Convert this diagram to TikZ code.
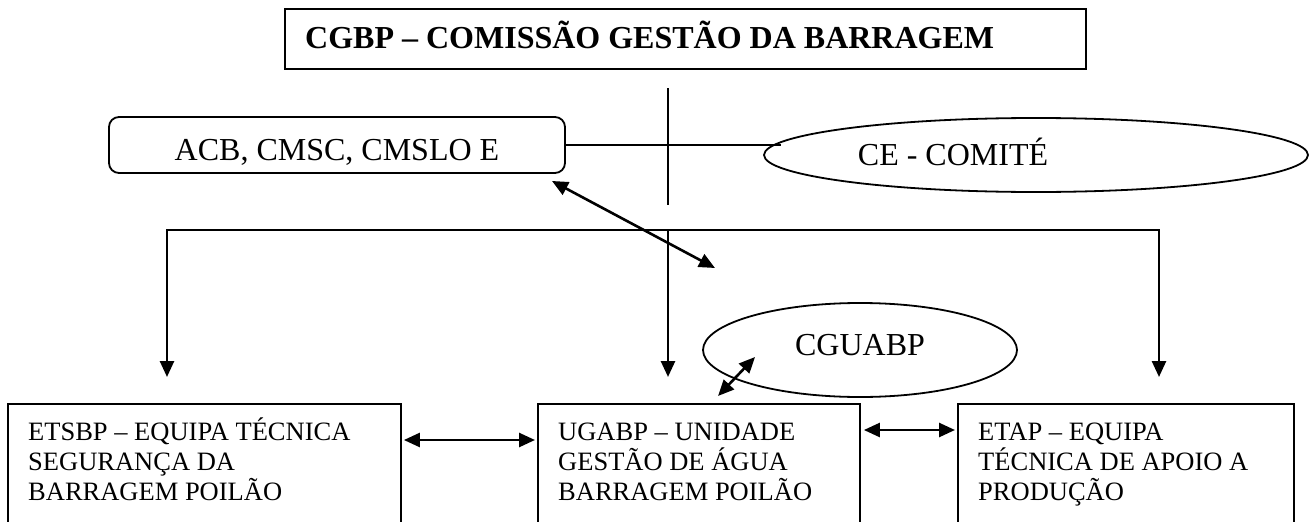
\documentclass[tikz,border=0pt]{standalone}
\usepackage{fontspec}
\setmainfont{Liberation Serif}
\usetikzlibrary{arrows.meta,shapes.geometric}
\begin{document}
\begin{tikzpicture}[x=1pt,y=-1pt,
  box/.style={draw,line width=1.9pt,rectangle,inner sep=0pt,anchor=north west},
  oval/.style={draw,ellipse,line width=1.8pt,inner sep=0pt},
  btext/.style={font=\fontsize{26.5}{30}\selectfont,anchor=base west,inner sep=0pt},
  big/.style={font=\fontsize{32}{38}\selectfont,inner sep=0pt,anchor=base},
  arr/.style={line width=2.6pt,-{Triangle[length=16pt,width=14pt]}},
  darr/.style={line width=2.6pt,{Triangle[length=16pt,width=14pt]}-{Triangle[length=16pt,width=14pt]}},
  thinline/.style={line width=1.5pt}]
\useasboundingbox (0,0) rectangle (1312,522);

% top box
\node[box,minimum width=801pt,minimum height=60pt] (cgbp) at (284,8) {};
\node[big,font=\bfseries\fontsize{32}{38}\selectfont,anchor=base west] (cgbpT) at (305,48) {CGBP – COMISSÃO GESTÃO DA BARRAGEM};

% rounded box
\node[draw,line width=1.8pt,rounded corners=10pt,minimum width=456pt,minimum height=56pt,inner sep=0pt] (acb) at (337,145) {};
\node[big] (acbT) at (337,160) {ACB, CMSC, CMSLO E};

% CE ellipse
\node[oval,minimum width=544pt,minimum height=74pt] (ce) at (1036,155) {};
\node[big] (ceT) at (953,165) {CE - COMITÉ};

% CGUABP ellipse
\node[oval,minimum width=314pt,minimum height=94pt] (cg) at (860,350) {};
\node[big] (cgT) at (860,355) {CGUABP};

% bottom boxes
\node[box,minimum width=393pt,minimum height=119pt] (etsbp) at (7,403) {};
\node[btext] (etsbp1) at (28,440) {ETSBP – EQUIPA TÉCNICA};
\node[btext] (etsbp2) at (28,470) {SEGURANÇA DA};
\node[btext] (etsbp3) at (28,500) {BARRAGEM POILÃO};

\node[box,minimum width=322pt,minimum height=119pt] (ugabp) at (537,403) {};
\node[btext] (ugabp1) at (558,440) {UGABP – UNIDADE};
\node[btext] (ugabp2) at (558,470) {GESTÃO DE ÁGUA};
\node[btext] (ugabp3) at (558,500) {BARRAGEM POILÃO};

\node[box,minimum width=336pt,minimum height=119pt] (etap) at (957,403) {};
\node[btext] (etap1) at (978,440) {ETAP – EQUIPA};
\node[btext] (etap2) at (978,470) {TÉCNICA DE APOIO A};
\node[btext] (etap3) at (978,500) {PRODUÇÃO};

% connectors
\coordinate (v1) at (668,88);
\coordinate (v2) at (668,205);
\draw[thinline] (v1) -- (v2);
\draw[thinline] (acb.east) -- (acb.east -| ce.177.8);

\coordinate (bl) at (167,230);
\coordinate (bm) at (668,230);
\coordinate (br) at (1159,230);
\draw[line width=1.9pt,line cap=rect] (bl) -- (br);
\draw[arr,shorten >=26pt] (bl) -- (bl |- etsbp.north);
\draw[arr,shorten >=26pt] (bm) -- (bm |- ugabp.north);
\draw[arr,shorten >=26pt] (br) -- (br |- etap.north);

\coordinate (d1) at (552,181);
\coordinate (d2) at (715,268);
\draw[darr] (d1) -- (d2);

\coordinate (s1) at (718,396);
\coordinate (s2) at (755,357);
\draw[darr] (s1) -- (s2);

\draw[darr] ([xshift=2pt,yshift=-37pt]etsbp.north east) -- ([xshift=-2pt,yshift=-37pt]ugabp.north west);
\draw[darr] ([xshift=3pt,yshift=-27pt]ugabp.north east) -- ([xshift=-2pt,yshift=-27pt]etap.north west);
\end{tikzpicture}
\end{document}
